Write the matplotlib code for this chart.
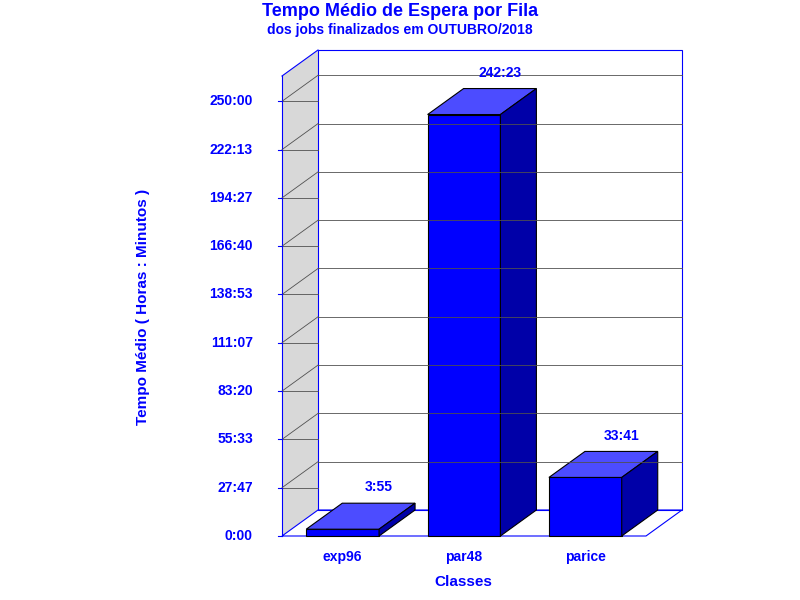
import matplotlib
matplotlib.use('Agg')
import numpy as np
from matplotlib import pyplot as plt
from matplotlib.patches import Polygon

plt.rcParams['font.family'] = ['Liberation Sans', 'DejaVu Sans']

classes = ['exp96', 'par48', 'parice']
wait_minutes = [235, 14543, 2021]     # 3:55, 242:23, 33:41
tick_minutes = [i * 250 * 60 / 9 for i in range(10)]
y_max = 15873

blue = '#0000ff'


def hm(m):
    m = int(round(m))
    return f"{m // 60}:{m % 60:02d}"


fig = plt.figure(figsize=(8, 6), dpi=100)
# front plane of the 3d box in pixels: x 282..646, y 76..536
ax = fig.add_axes([282 / 800, 64 / 600, 364 / 800, 460 / 600])
ax.set_xlim(0, 3)
ax.set_ylim(0, y_max)
ax.axis('off')

dx = 36 / 364 * 3
dy = 26 / 460 * y_max
w = 0.6

# side wall and floor
ax.add_patch(Polygon([(0, 0), (dx, dy), (dx, y_max + dy), (0, y_max)],
                     closed=True, facecolor='#d8d8d8', edgecolor='none', clip_on=False))
ax.add_patch(Polygon([(0, 0), (3, 0), (3 + dx, dy), (dx, dy)],
                     closed=True, facecolor='white', edgecolor=blue, lw=0.8, clip_on=False))
# back wall border
ax.add_patch(Polygon([(dx, dy), (3 + dx, dy), (3 + dx, y_max + dy), (dx, y_max + dy)],
                     closed=True, facecolor='none', edgecolor=blue, lw=0.8, clip_on=False))
ax.plot([0, dx], [y_max, y_max + dy], color=blue, lw=0.8, clip_on=False)
ax.plot([0, 0], [0, y_max], color=blue, lw=0.8, clip_on=False)

# grid lines
for t in tick_minutes[1:]:
    ax.plot([dx, 3 + dx], [t + dy, t + dy], color='#505050', lw=0.6, clip_on=False)
    ax.plot([0, dx], [t, t], color='#505050', lw=0.6, clip_on=False)
    ax.plot([0, dx], [t, t + dy], color='#505050', lw=0.6, clip_on=False)
for t in tick_minutes:
    ax.plot([-0.03, 0], [t, t], color=blue, lw=0.8, clip_on=False)
    ax.text(-0.24, t, hm(t), ha='right', va='center', color=blue,
            fontsize=10, fontweight='bold')

# bars
for i, (c, v) in enumerate(zip(classes, wait_minutes)):
    x0 = i + 0.5 - w / 2
    x1 = x0 + w
    ax.add_patch(Polygon([(x0, 0), (x1, 0), (x1, v), (x0, v)], closed=True,
                         facecolor='#0000ff', edgecolor='black', lw=0.8, clip_on=False))
    ax.add_patch(Polygon([(x0, v), (x1, v), (x1 + dx, v + dy), (x0 + dx, v + dy)],
                         closed=True, facecolor='#4c4cff', edgecolor='black', lw=0.8,
                         clip_on=False))
    ax.add_patch(Polygon([(x1, 0), (x1 + dx, dy), (x1 + dx, v + dy), (x1, v)],
                         closed=True, facecolor='#0000a8', edgecolor='black', lw=0.8,
                         clip_on=False))
    ax.text(i + 0.5 + dx, v + dy + 300, hm(v), ha='center', va='bottom',
            color=blue, fontsize=10, fontweight='bold')
    ax.text(i + 0.5, -500, c, ha='center', va='top', color=blue,
            fontsize=10, fontweight='bold')

fig.text(0.5, 1 - 12 / 600, 'Tempo Médio de Espera por Fila', ha='center', va='center',
         color=blue, fontsize=13, fontweight='bold')
fig.text(0.5, 1 - 30 / 600, 'dos jobs finalizados em OUTUBRO/2018', ha='center',
         va='center', color=blue, fontsize=10, fontweight='bold')
fig.text(463 / 800, 1 - 582 / 600, 'Classes', ha='center', va='center',
         color=blue, fontsize=11, fontweight='bold')
fig.text(143 / 800, 1 - 307 / 600, 'Tempo Médio ( Horas : Minutos )', ha='center',
         va='center', rotation=90, color=blue, fontsize=11, fontweight='bold')

fig.savefig('out.png', dpi=100, facecolor='white')
